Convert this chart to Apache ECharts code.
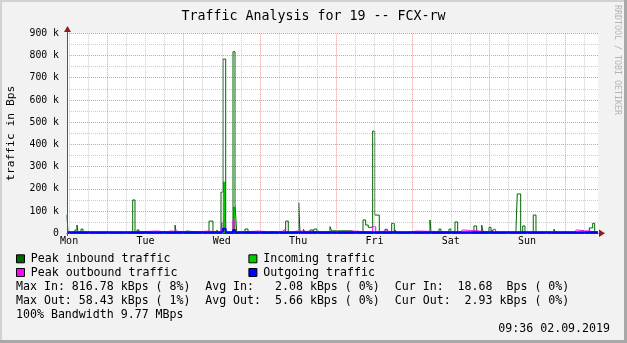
<!DOCTYPE html>
<html>
<head>
<meta charset="utf-8">
<script src="https://cdn.jsdelivr.net/npm/echarts@6/dist/echarts.min.js"></script>
<style>
html,body{margin:0;padding:0;background:#f2f2f2;}
#c{width:627px;height:343px;}
</style>
</head>
<body>
<div id="c"></div>
<script>
// ---- DATA (hours since Mon 00:00, value in Bytes/s) ----
const dayNames = ['Mon','Tue','Wed','Thu','Fri','Sat','Sun'];
const dayLabelHours = [12, 36, 60, 84, 108, 132, 156];

const peakIn = [
 [11.33, 82000], [11.64, 2000], [13.84, 15000], [14.47, 37000], [14.79, 2000],
 [15.73, 19000], [16.36, 2000], [31.99, 150000], [32.71, 2000], [33.34, 15000],
 [33.97, 2000], [40.57, 8000], [41.51, 2000], [45.29, 37000], [45.69, 2000],
 [46.86, 10000], [49.06, 2000], [55.98, 55000], [57.23, 2000], [58.49, 15000],
 [58.80, 2000], [59.75, 185000], [60.38, 784000], [61.23, 2000], [63.52, 817000],
 [64.15, 135000], [64.69, 2000], [67.29, 19000], [68.24, 2000], [80.09, 55000],
 [80.91, 2000], [84.18, 138000], [84.59, 2000], [85.69, 18000], [86.16, 2000],
 [87.73, 15000], [88.67, 2000], [88.99, 19000], [89.93, 2000], [90.25, 12000],
 [90.56, 2000], [93.39, 11000], [94.02, 30000], [94.52, 11000], [100.94, 2000],
 [101.88, 10000], [102.51, 2000], [104.40, 60000], [105.24, 37000], [106.06, 27000],
 [107.44, 460000], [108.07, 82000], [109.52, 2000], [111.31, 18000], [112.04, 2000],
 [113.42, 45000], [114.24, 2000], [114.46, 15000], [115.00, 2000], [125.46, 60000],
 [125.87, 2000], [128.29, 19000], [128.92, 2000], [131.43, 19000], [132.06, 2000],
 [132.38, 10000], [133.32, 51000], [134.17, 2000], [139.29, 33000], [140.14, 2000],
 [141.72, 37000], [142.22, 2000], [144.01, 27000], [144.64, 2000], [144.96, 15000],
 [145.27, 2000], [152.50, 18000], [152.91, 177000], [153.98, 2000], [154.61, 33000],
 [155.33, 2000], [157.94, 82000], [158.79, 2000], [164.45, 19000], [164.98, 2000],
 [175.55, 24000], [176.62, 45000], [177.25, 2000], [178.29, 2000]
];
const incoming = [
 [11.33, 1000], [59.75, 48000], [60.38, 232000], [61.23, 1000],
 [63.52, 120000], [64.15, 1000], [178.29, 1000]
];
const peakOut = [
 [11.33, 6000], [19.2, 10000], [19.8, 6000], [32.0, 10000], [39.6, 6000],
 [42.8, 10000], [43.7, 6000], [52.5, 10000], [55.7, 6000], [59.75, 25000],
 [60.38, 52000], [61.23, 6000], [63.52, 58000], [64.15, 20000], [64.69, 6000],
 [65.4, 10000], [71.7, 6000], [74.9, 8000], [75.8, 6000], [78.3, 10000],
 [79.2, 18000], [79.9, 6000], [82.4, 10000], [83.6, 6000], [96.5, 10000],
 [100.9, 6000], [107.44, 30000], [108.4, 6000], [109.4, 10000], [111.3, 6000],
 [116.3, 10000], [116.9, 6000], [118.5, 10000], [121.4, 6000], [134.9, 15000],
 [135.8, 6000], [145.3, 18000], [146.1, 6000], [170.8, 15000], [171.6, 6000],
 [178.29, 6000]
];
const outgoing = [
 [11.33, 5000], [59.75, 8000], [60.38, 20000], [61.23, 5000],
 [63.52, 15000], [64.15, 5000], [178.29, 5000]
];

const legendItems = [
 {name: 'Peak inbound traffic', color: '#006600'},
 {name: 'Incoming traffic', color: '#00cc00'},
 {name: 'Peak outbound traffic', color: '#ff00ff'},
 {name: 'Outgoing traffic', color: '#0000ff'}
];
const statsRow1 = ['Max In: 816.78 kBps ( 8%)', 'Avg In:   2.08 kBps ( 0%)', 'Cur In:  18.68  Bps ( 0%)'];
const statsRow2 = ['Max Out: 58.43 kBps ( 1%)', 'Avg Out:  5.66 kBps ( 0%)', 'Cur Out:  2.93 kBps ( 0%)'];
const bandwidthText = '100% Bandwidth 9.77 MBps';
const stampText = '09:36 02.09.2019';
const titleText = 'Traffic Analysis for 19 -- FCX-rw';
const yName = 'traffic in Bps';

// ---- CHART ----
const X_MIN = 11.33, X_MAX = 178.29;
const MONO = '"DejaVu Sans Mono", monospace';
const RED = '#e49a9a', GRAY = '#cccccc';

const gridHours = [];
for (let h = Math.ceil(X_MIN / 6) * 6; h < X_MAX; h += 6) gridHours.push(h);

const chart = echarts.init(document.getElementById('c'), null, {renderer: 'canvas'});

const legendGraphics = [];
const colX = [16, 248.4];
const rowY = [259.3, 273];
legendItems.forEach((it, i) => {
  const col = i % 2, row = Math.floor(i / 2);
  legendGraphics.push({type: 'rect', shape: {x: colX[col] + 0.5, y: rowY[row] - 4.5, width: 8, height: 8},
    style: {fill: it.color, stroke: '#000', lineWidth: 1}});
  legendGraphics.push({type: 'text', x: colX[col] + 14.8, y: rowY[row],
    style: {text: it.name, font: '11.6px ' + MONO, fill: '#000', textVerticalAlign: 'middle'}});
});
const statX = [16, 205.2, 394.8];
statsRow1.forEach((t, i) => legendGraphics.push({type: 'text', x: statX[i], y: 287.3,
  style: {text: t, font: '11.6px ' + MONO, fill: '#000', textVerticalAlign: 'middle'}}));
statsRow2.forEach((t, i) => legendGraphics.push({type: 'text', x: statX[i], y: 301,
  style: {text: t, font: '11.6px ' + MONO, fill: '#000', textVerticalAlign: 'middle'}}));
legendGraphics.push({type: 'text', x: 16, y: 315.3,
  style: {text: bandwidthText, font: '11.6px ' + MONO, fill: '#000', textVerticalAlign: 'middle'}});
legendGraphics.push({type: 'text', x: 610, y: 329,
  style: {text: stampText, font: '11.6px ' + MONO, fill: '#000', textAlign: 'right', textVerticalAlign: 'middle'}});

const decor = [
  {type: 'rect', shape: {x: 0, y: 0, width: 627, height: 2}, style: {fill: '#d2d2d2'}, z: 100},
  {type: 'rect', shape: {x: 0, y: 0, width: 2, height: 343}, style: {fill: '#d2d2d2'}, z: 100},
  {type: 'rect', shape: {x: 624, y: 0, width: 3, height: 343}, style: {fill: '#a8a8a8'}, z: 100},
  {type: 'rect', shape: {x: 0, y: 340, width: 627, height: 3}, style: {fill: '#a8a8a8'}, z: 100},
  {type: 'line', shape: {x1: 67.5, y1: 28, x2: 67.5, y2: 236}, style: {stroke: '#555', lineWidth: 1}, z: 50},
  {type: 'polygon', shape: {points: [[64, 32], [71, 32], [67.5, 26]]}, style: {fill: '#8f1d1d'}, z: 51},
  {type: 'polygon', shape: {points: [[599, 229.5], [599, 237], [605, 233.3]]}, style: {fill: '#8f1d1d'}, z: 51},
  {type: 'text', x: 617, y: 5, rotation: -Math.PI / 2,
    style: {text: 'RRDTOOL / TOBI OETIKER', font: '8.3px ' + MONO, fill: '#b4b4b4', textVerticalAlign: 'middle'}}
];

const stepLine = (name, data, color, width, z) => ({
  name, type: 'line', step: 'end', data, showSymbol: false, symbol: 'none', z,
  lineStyle: {color, width}, itemStyle: {color}, silent: true
});

chart.setOption({
  animation: false,
  backgroundColor: '#f2f2f2',
  title: {text: titleText, left: 'center', top: 5,
    textStyle: {fontFamily: MONO, fontSize: 13.3, fontWeight: 'normal', color: '#000'}},
  grid: {left: 67, top: 33.3, width: 531, height: 200, show: true, backgroundColor: '#ffffff',
    borderWidth: 0, containLabel: false, outerBoundsMode: 'none'},
  xAxis: {
    type: 'value', min: X_MIN, max: X_MAX,
    axisLine: {show: true, lineStyle: {color: '#333', width: 1}},
    axisTick: {show: false},
    splitLine: {show: false},
    axisLabel: {
      customValues: dayLabelHours,
      formatter: v => dayNames[Math.floor(v / 24)] || '',
      fontFamily: MONO, fontSize: 10, color: '#000', margin: 3
    }
  },
  yAxis: {
    type: 'value', min: 0, max: 900000, interval: 100000,
    name: yName, nameLocation: 'middle', nameGap: 50, nameRotate: 90, nameMoveOverlap: false,
    nameTextStyle: {fontFamily: MONO, fontSize: 11.3, color: '#000'},
    axisLine: {show: false},
    axisTick: {show: false},
    axisLabel: {fontFamily: MONO, fontSize: 9.8, color: '#000', margin: 8,
      formatter: v => v === 0 ? '0' : (v / 1000) + ' k'},
    splitLine: {show: true, lineStyle: {color: RED, type: [1, 1], width: 1}},
    minorTick: {show: false, splitNumber: 2},
    minorSplitLine: {show: true, lineStyle: {color: GRAY, type: [1, 1], width: 1}}
  },
  graphic: decor.concat(legendGraphics),
  series: [
    {
      type: 'line', data: [[X_MIN, 0]], symbol: 'none', lineStyle: {opacity: 0}, z: 1, silent: true,
      markLine: {
        silent: true, symbol: ['none', 'none'], label: {show: false}, animation: false,
        data: gridHours.map(h => ({xAxis: h, lineStyle: {color: h % 24 === 0 ? RED : GRAY, type: [1, 1], width: 1}}))
      }
    },
    Object.assign(stepLine('Incoming traffic', incoming, '#00cc00', 0, 2), {areaStyle: {color: '#00cc00', opacity: 1}}),
    stepLine('Peak inbound traffic', peakIn, '#006600', 1, 3),
    stepLine('Peak outbound traffic', peakOut, '#ff00ff', 1, 4),
    stepLine('Outgoing traffic', outgoing, '#0000ff', 2, 5)
  ]
});
</script>
</body>
</html>
